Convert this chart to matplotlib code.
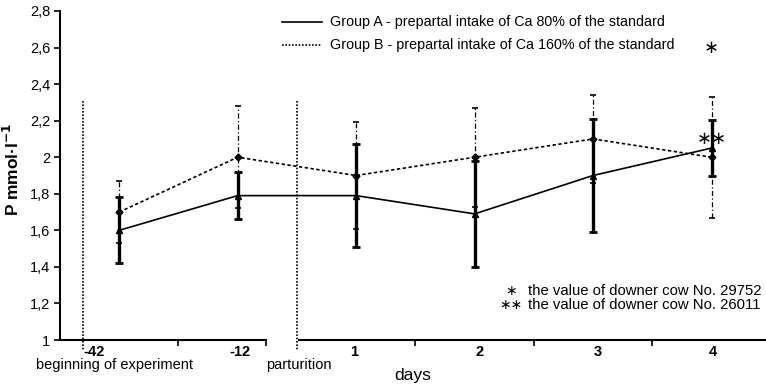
"""Serum P of two cow groups around parturition, with SD bars."""

import matplotlib
matplotlib.use("Agg")
import matplotlib.pyplot as plt
from matplotlib.lines import Line2D
from matplotlib.ticker import FuncFormatter
import numpy as np

days = ["-42", "-12", "1", "2", "3", "4"]
group_a = [1.60, 1.79, 1.79, 1.69, 1.90, 2.05]
group_a_sd = [0.18, 0.13, 0.28, 0.29, 0.31, 0.155]
group_b = [1.70, 2.00, 1.90, 2.00, 2.10, 2.00]
group_b_sd = [0.17, 0.28, 0.29, 0.27, 0.24, 0.33]
downer_29752 = 2.60   # day 4
downer_26011 = 2.10   # day 4

label_a = "Group A - prepartal intake of Ca 80% of the standard"
label_b = "Group B - prepartal intake of Ca 160% of the standard"

plt.rcParams["font.family"] = ["Liberation Sans", "DejaVu Sans"]
STAR = dict(family=["DejaVu Sans"])

W, H = 766, 385
fig = plt.figure(figsize=(W / 100, H / 100), dpi=100)
ax = fig.add_axes([60 / W, 45 / H, (W - 60) / W, 329 / H])

x = np.arange(len(days))

# group A: thick solid bars, solid line
ax.errorbar(x, group_a, yerr=group_a_sd, fmt="none", ecolor="black",
            elinewidth=2.4, capsize=3, capthick=2, zorder=3)
ax.plot(x, group_a, color="black", lw=1.2, marker="^", ms=4, zorder=4)

# group B: thin dash-dot bars, dotted line
eb = ax.errorbar(x, group_b, yerr=group_b_sd, fmt="none", ecolor="black",
                 elinewidth=0.9, capsize=2.2, capthick=1.2, zorder=5)
eb[2][0].set_linestyle((0, (4, 2, 1, 2)))
ax.plot(x, group_b, color="black", lw=1.2, ls=(0, (2, 1.5)),
        marker="D", ms=3.5, zorder=4)

# downer cows at day 4
ax.text(x[-1], downer_29752, "∗", ha="center", va="center", fontsize=13, **STAR)
ax.text(x[-1], downer_26011, "∗∗", ha="center", va="center", fontsize=13, **STAR)

ax.set_ylim(1, 2.8)
ax.set_xlim(-0.5, 5.46)
ax.set_yticks(np.arange(1, 2.81, 0.2))
ax.yaxis.set_major_formatter(
    FuncFormatter(lambda v, p: f"{v:.1f}".rstrip("0").rstrip(".").replace(".", ",")))
ax.tick_params(axis="y", direction="out", length=4, width=1.2, labelsize=10.5, pad=3)
ax.spines["left"].set_linewidth(1.5)
for s in ["top", "right", "bottom"]:
    ax.spines[s].set_visible(False)

# broken x axis
ax.set_xticks([])
ax.set_xticks([0.5, 1.24, 2.5, 3.5, 4.5], minor=True)
ax.tick_params(axis="x", which="minor", direction="out", length=4, width=1.2,
               labelbottom=False)
ax.plot([-0.5, 1.24], [1, 1], color="black", lw=1.5, clip_on=False, zorder=6)
ax.plot([1.52, 5.46], [1, 1], color="black", lw=1.5, clip_on=False, zorder=6)

# phase markers
for xv in [-0.31, 1.5]:
    ax.plot([xv, xv], [2.31, 0.945], color="black", lw=1.2, ls=(0, (1, 1)),
            clip_on=False)

trans = ax.get_xaxis_transform()
offsets = [-0.21, 0.02, -0.02, 0.04, 0.04, 0.01]
for xi, d, off in zip(x, days, offsets):
    ax.text(xi + off, -0.037, d, transform=trans, ha="center", va="center",
            fontsize=10.5, fontweight="bold")
ax.text(-0.04, -0.075, "beginning of experiment", transform=trans,
        ha="center", va="center", fontsize=10.5)
ax.text(1.52, -0.075, "parturition", transform=trans, ha="center",
        va="center", fontsize=10.5)
ax.text(2.48, -0.107, "days", transform=trans, ha="center", va="center",
        fontsize=12.5)

ax.set_ylabel("P mmol·l$^{\\mathbf{-1}}$", fontsize=12.5, fontweight="bold")
ax.yaxis.set_label_coords(-38 / (W - 60), 0.52)

# legend drawn by hand
for yy, ls, lab in [(22, "-", label_a), (45, (0, (1, 1)), label_b)]:
    fig.add_artist(Line2D([282 / W, 322 / W], [1 - yy / H] * 2, color="black",
                          lw=1.2, ls=ls))
    fig.text(330 / W, 1 - yy / H, lab, ha="left", va="center", fontsize=10.3)

for yy, mark, lab in [(291, "∗", "the value of downer cow No. 29752"),
                      (305, "∗∗", "the value of downer cow No. 26011")]:
    fig.text(511 / W, 1 - yy / H, mark, ha="center", va="center", fontsize=10,
             **STAR)
    fig.text(528 / W, 1 - yy / H, lab, ha="left", va="center", fontsize=10.7)

fig.savefig("out.png", dpi=100)
